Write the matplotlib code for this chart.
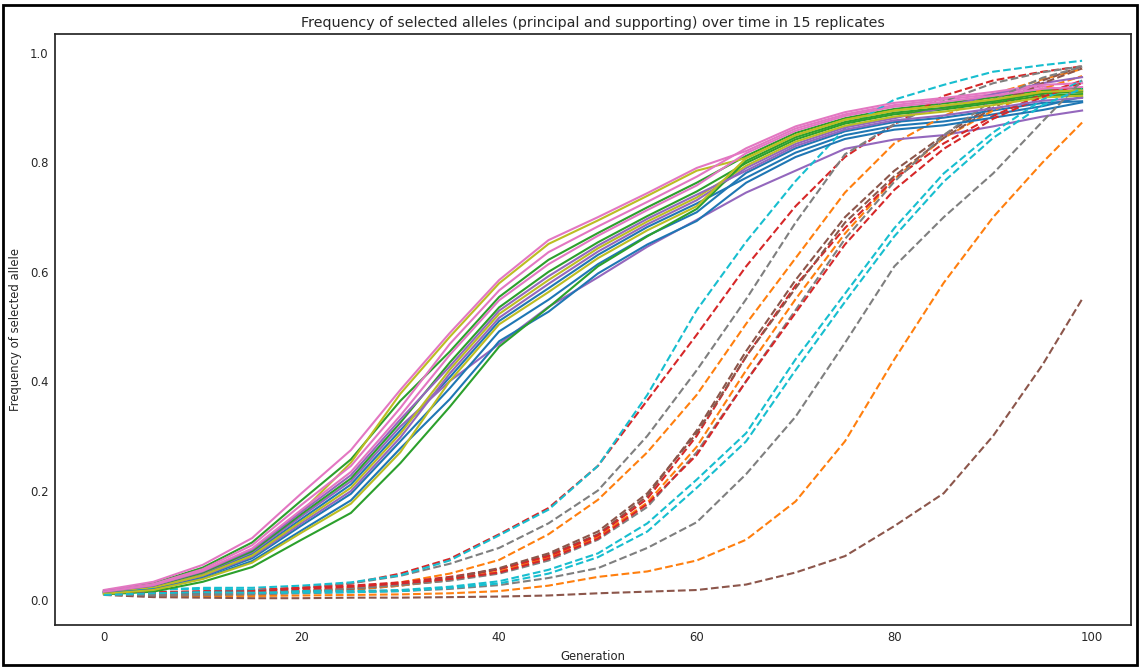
import matplotlib
matplotlib.use("Agg")
import matplotlib.pyplot as plt
from matplotlib.patches import Rectangle

gens = [0, 5, 10, 15, 20, 25, 30, 35, 40, 45, 50, 55, 60, 65, 70, 75, 80, 85, 90, 95, 99]

# principal allele, replicates 1..15 (solid)
p01 = [0.014, 0.023, 0.047, 0.084, 0.148, 0.211, 0.310, 0.407, 0.510, 0.570, 0.631, 0.682, 0.725, 0.772, 0.818, 0.850, 0.867, 0.875, 0.888, 0.903, 0.920]
p02 = [0.017, 0.030, 0.059, 0.105, 0.182, 0.257, 0.364, 0.454, 0.554, 0.622, 0.671, 0.718, 0.763, 0.812, 0.854, 0.881, 0.898, 0.908, 0.919, 0.932, 0.935]
p03 = [0.014, 0.024, 0.049, 0.087, 0.153, 0.217, 0.317, 0.400, 0.468, 0.536, 0.590, 0.646, 0.695, 0.745, 0.785, 0.825, 0.842, 0.850, 0.866, 0.884, 0.895]
p04 = [0.018, 0.033, 0.064, 0.113, 0.195, 0.274, 0.384, 0.488, 0.585, 0.658, 0.700, 0.744, 0.790, 0.821, 0.862, 0.888, 0.905, 0.915, 0.925, 0.939, 0.930]
p05 = [0.015, 0.026, 0.052, 0.092, 0.161, 0.251, 0.377, 0.481, 0.579, 0.651, 0.694, 0.739, 0.785, 0.808, 0.850, 0.878, 0.895, 0.904, 0.915, 0.929, 0.928]
p06 = [0.012, 0.020, 0.042, 0.076, 0.136, 0.194, 0.290, 0.387, 0.491, 0.549, 0.614, 0.666, 0.709, 0.781, 0.826, 0.857, 0.874, 0.882, 0.895, 0.909, 0.912]
p07 = [0.014, 0.025, 0.050, 0.089, 0.157, 0.222, 0.324, 0.434, 0.535, 0.600, 0.654, 0.702, 0.747, 0.799, 0.842, 0.871, 0.888, 0.897, 0.909, 0.922, 0.925]
p08 = [0.013, 0.021, 0.044, 0.079, 0.140, 0.199, 0.297, 0.414, 0.516, 0.578, 0.637, 0.687, 0.731, 0.790, 0.834, 0.864, 0.881, 0.900, 0.925, 0.945, 0.956]
p09 = [0.016, 0.029, 0.056, 0.100, 0.174, 0.245, 0.351, 0.468, 0.566, 0.636, 0.683, 0.728, 0.774, 0.826, 0.866, 0.892, 0.909, 0.918, 0.929, 0.942, 0.945]
p10 = [0.013, 0.022, 0.045, 0.081, 0.144, 0.205, 0.304, 0.421, 0.523, 0.585, 0.643, 0.692, 0.736, 0.794, 0.838, 0.867, 0.884, 0.893, 0.905, 0.919, 0.922]
p11 = [0.012, 0.019, 0.039, 0.071, 0.127, 0.182, 0.277, 0.367, 0.473, 0.527, 0.597, 0.650, 0.693, 0.763, 0.810, 0.843, 0.860, 0.868, 0.882, 0.896, 0.910]
p12 = [0.010, 0.015, 0.033, 0.060, 0.110, 0.159, 0.250, 0.353, 0.463, 0.535, 0.610, 0.665, 0.715, 0.803, 0.846, 0.874, 0.891, 0.900, 0.912, 0.926, 0.930]
p13 = [0.015, 0.026, 0.052, 0.092, 0.161, 0.228, 0.330, 0.427, 0.529, 0.592, 0.648, 0.697, 0.741, 0.785, 0.830, 0.860, 0.877, 0.886, 0.899, 0.913, 0.918]
p14 = [0.015, 0.027, 0.053, 0.094, 0.165, 0.234, 0.337, 0.448, 0.548, 0.614, 0.666, 0.713, 0.758, 0.817, 0.858, 0.885, 0.902, 0.911, 0.922, 0.935, 0.938]
p15 = [0.011, 0.018, 0.038, 0.068, 0.123, 0.176, 0.270, 0.400, 0.504, 0.563, 0.625, 0.676, 0.720, 0.808, 0.850, 0.878, 0.895, 0.904, 0.915, 0.929, 0.932]

# supporting allele, replicates 1..15 (dashed)
s01 = [0.011, 0.010, 0.010, 0.012, 0.016, 0.022, 0.032, 0.048, 0.073, 0.120, 0.183, 0.270, 0.375, 0.505, 0.625, 0.745, 0.835, 0.885, 0.925, 0.952, 0.971]
s02 = [0.011, 0.010, 0.012, 0.016, 0.022, 0.030, 0.048, 0.075, 0.120, 0.168, 0.245, 0.365, 0.485, 0.610, 0.720, 0.810, 0.870, 0.922, 0.950, 0.966, 0.976]
s03 = [0.011, 0.008, 0.008, 0.010, 0.014, 0.018, 0.026, 0.038, 0.056, 0.082, 0.120, 0.190, 0.310, 0.455, 0.585, 0.700, 0.785, 0.850, 0.905, 0.950, 0.976]
s04 = [0.012, 0.012, 0.014, 0.018, 0.022, 0.030, 0.044, 0.066, 0.095, 0.140, 0.200, 0.300, 0.420, 0.550, 0.690, 0.815, 0.870, 0.912, 0.945, 0.965, 0.976]
s05 = [0.012, 0.018, 0.022, 0.022, 0.026, 0.032, 0.045, 0.072, 0.118, 0.165, 0.245, 0.375, 0.530, 0.655, 0.766, 0.862, 0.915, 0.942, 0.966, 0.978, 0.986]
s06 = [0.010, 0.009, 0.010, 0.012, 0.015, 0.019, 0.026, 0.036, 0.052, 0.078, 0.115, 0.178, 0.280, 0.420, 0.550, 0.670, 0.770, 0.845, 0.895, 0.935, 0.958]
s07 = [0.012, 0.014, 0.016, 0.018, 0.022, 0.026, 0.032, 0.042, 0.056, 0.080, 0.118, 0.185, 0.300, 0.445, 0.575, 0.680, 0.770, 0.835, 0.885, 0.925, 0.950]
s08 = [0.012, 0.010, 0.010, 0.012, 0.016, 0.020, 0.028, 0.040, 0.058, 0.085, 0.125, 0.195, 0.305, 0.445, 0.570, 0.690, 0.775, 0.845, 0.900, 0.945, 0.972]
s09 = [0.010, 0.011, 0.012, 0.014, 0.017, 0.021, 0.027, 0.035, 0.048, 0.072, 0.110, 0.170, 0.270, 0.400, 0.530, 0.660, 0.765, 0.850, 0.915, 0.955, 0.975]
s10 = [0.010, 0.020, 0.020, 0.018, 0.016, 0.016, 0.018, 0.024, 0.034, 0.055, 0.085, 0.140, 0.220, 0.305, 0.440, 0.560, 0.680, 0.780, 0.855, 0.915, 0.950]
s11 = [0.010, 0.008, 0.007, 0.007, 0.008, 0.009, 0.010, 0.012, 0.016, 0.026, 0.042, 0.052, 0.072, 0.110, 0.180, 0.290, 0.440, 0.580, 0.700, 0.800, 0.873]
s12 = [0.011, 0.012, 0.014, 0.016, 0.020, 0.024, 0.030, 0.038, 0.050, 0.075, 0.112, 0.175, 0.265, 0.400, 0.525, 0.650, 0.750, 0.825, 0.880, 0.920, 0.945]
s13 = [0.009, 0.005, 0.004, 0.003, 0.003, 0.004, 0.004, 0.005, 0.006, 0.008, 0.012, 0.015, 0.018, 0.028, 0.050, 0.080, 0.135, 0.195, 0.300, 0.430, 0.550]
s14 = [0.010, 0.008, 0.009, 0.010, 0.012, 0.014, 0.016, 0.020, 0.027, 0.040, 0.058, 0.095, 0.142, 0.230, 0.335, 0.470, 0.610, 0.700, 0.780, 0.875, 0.950]
s15 = [0.009, 0.012, 0.014, 0.013, 0.013, 0.014, 0.016, 0.022, 0.030, 0.048, 0.078, 0.125, 0.205, 0.290, 0.420, 0.545, 0.665, 0.765, 0.845, 0.905, 0.935]

principal = [p01, p02, p03, p04, p05, p06, p07, p08, p09, p10, p11, p12, p13, p14, p15]
supporting = [s01, s02, s03, s04, s05, s06, s07, s08, s09, s10, s11, s12, s13, s14, s15]

plt.rcParams['font.family'] = 'DejaVu Sans'
plt.rcParams['axes.edgecolor'] = '.15'
plt.rcParams['text.color'] = '.15'
plt.rcParams['axes.labelcolor'] = '.15'
plt.rcParams['xtick.color'] = '.15'
plt.rcParams['ytick.color'] = '.15'

fig = plt.figure(figsize=(11.41, 6.67), dpi=100)
ax = fig.add_axes([55 / 1141, 42 / 667, 1076 / 1141, 591 / 667])

for p, s in zip(principal, supporting):
    ax.plot(gens, p, '-', linewidth=1.5)
    ax.plot(gens, s, '--', linewidth=1.5)

ax.set_title('Frequency of selected alleles (principal and supporting) over time in 15 replicates',
             fontsize=10.3, pad=5)
ax.set_xlabel('Generation', fontsize=8.4, labelpad=4)
ax.set_ylabel('Frequency of selected allele', fontsize=8.4)
ax.yaxis.set_label_coords(-33 / 1076, 0.5)
ax.tick_params(length=0, labelsize=8.4, pad=4.5)
ax.set_xticks([0, 20, 40, 60, 80, 100])
ax.set_yticks([0.0, 0.2, 0.4, 0.6, 0.8, 1.0])
ax.set_xlim(-4.95, 103.95)
ax.set_ylim(-0.046, 1.035)
for sp in ax.spines.values():
    sp.set_linewidth(1.25)

# black frame round the whole picture
fig.patches.append(Rectangle((3 / 1141, 2 / 667), 1134 / 1141, 660 / 667, transform=fig.transFigure,
                             fill=False, edgecolor='black', linewidth=2))

fig.savefig('out.png', dpi=100)
